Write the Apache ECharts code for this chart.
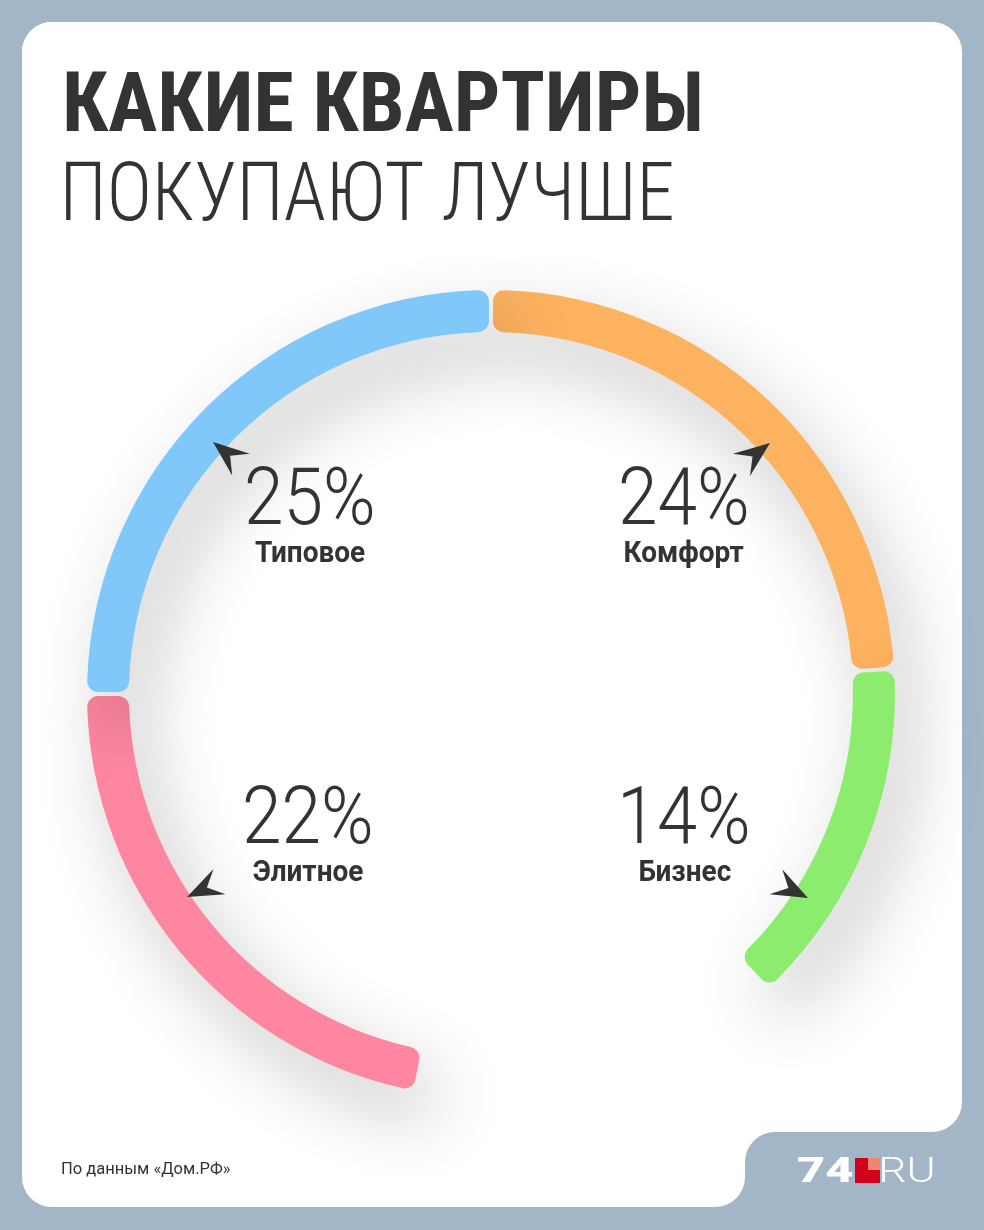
<!DOCTYPE html>
<html>
<head>
<meta charset="utf-8">
<title>Какие квартиры покупают лучше</title>
<script src="https://cdn.jsdelivr.net/npm/echarts@6/dist/echarts.min.js"></script>
<style>
  html, body { margin: 0; padding: 0; background: #a3b6c7; }
  #chart { width: 984px; height: 1230px; }
</style>
</head>
<body>
<div id="chart"></div>
<script>
// данные (по часовой стрелке от верхней точки кольца)
const categories = ['Комфорт', 'Бизнес', 'Элитное', 'Типовое']
const shares = [24, 14, 22, 25]
const colors = ['#fdb260', '#8cec6e', '#fe86a0', '#80c8fa']
// пустой промежуток внизу кольца вставляется после «Бизнес»
const gapAfter = 1

// оформление
const CX = 491
const CY = 694
const TEXT = '#333333'
// центр подписи (процент) относительно центра кольца
const labelPos = [[193, -198], [194, 121], [-183, 121], [-181, -198]]
// стрелки: острие относительно центра и направление
const arrowTips = [[279, -251], [317, 204], [-304, 203], [-278, -252]]
const arrowDirs = [[26, -20], [30.5, 15.5], [-29.5, 14], [-26, -21]]

const chart = echarts.init(document.getElementById('chart'))

// ширина «чернил» текста, чтобы подогнать узкое начертание
const measureCtx = document.createElement('canvas').getContext('2d')
function measure (text, font) {
  measureCtx.font = font
  measureCtx.textAlign = 'left'
  const m = measureCtx.measureText(text)
  return { left: m.actualBoundingBoxLeft, right: m.actualBoundingBoxRight }
}
// текст, сжатый по ширине; anchor: 'left' | 'center'; cy — середина заглавных букв
function fitText (text, font, size, ax, cy, width, anchor, fill, z) {
  const m = measure(text, font)
  const ink = m.left + m.right
  const s = width / ink
  let x
  if (anchor === 'center') {
    x = ax - ((m.right - m.left) / 2) * s
  } else {
    x = ax + m.left * s
  }
  return {
    type: 'text',
    x: x,
    y: cy + size * 0.1,
    scaleX: s,
    z: z || 10,
    silent: true,
    style: {
      text: text,
      font: font,
      fill: fill || TEXT,
      align: 'left',
      verticalAlign: 'middle'
    }
  }
}

// данные для кольца
const total = shares.reduce((a, b) => a + b, 0)
const seriesData = []
categories.forEach((name, i) => {
  seriesData.push({ name: name, value: shares[i], itemStyle: { color: colors[i] } })
  if (i === gapAfter) {
    seriesData.push({
      name: 'gap',
      value: 100 - total,
      itemStyle: { color: 'rgba(0,0,0,0)', shadowBlur: 0, shadowColor: 'rgba(0,0,0,0)' }
    })
  }
})

// фон-карточка
const cardShapes = [
  { type: 'rect', z: 0, silent: true, shape: { x: 22, y: 22, width: 940, height: 1110, r: 30 }, style: { fill: '#ffffff' } },
  { type: 'rect', z: 0, silent: true, shape: { x: 22, y: 22, width: 723, height: 1185, r: 30 }, style: { fill: '#ffffff' } },
  { type: 'rect', z: 0, silent: true, shape: { x: 715, y: 1100, width: 60, height: 60 }, style: { fill: '#ffffff' } },
  { type: 'rect', z: 1, silent: true, shape: { x: 745, y: 1132, width: 280, height: 140, r: 30 }, style: { fill: '#a3b6c7' } }
]

// подписи: процент + категория
const nameFont = 'bold 30px Roboto'
const ref = measure('Типовое', nameFont)
const nameScale = 110 / (ref.left + ref.right)
const labelEls = []
categories.forEach((name, i) => {
  const px = CX + labelPos[i][0]
  const py = CY + labelPos[i][1]
  labelEls.push(fitText(shares[i] + '%', '300 79px Roboto', 79, px, py, 125, 'center'))
  const w = measure(name, nameFont)
  labelEls.push(fitText(name, nameFont, 30, px, py + 55, (w.left + w.right) * nameScale, 'center'))
})

// стрелки-указатели
const arrowEls = arrowTips.map((tip, i) => {
  const d = arrowDirs[i]
  const len = Math.sqrt(d[0] * d[0] + d[1] * d[1])
  const ux = d[0] / len
  const uy = d[1] / len
  const local = [[0, 0], [-36, -14], [-22, 0], [-36, 14]]
  const pts = local.map(p => [
    CX + tip[0] + p[0] * ux - p[1] * uy,
    CY + tip[1] + p[0] * uy + p[1] * ux
  ])
  return { type: 'polygon', z: 10, silent: true, shape: { points: pts }, style: { fill: TEXT } }
})

// заголовок, источник, логотип
const headerEls = [
  fitText('КАКИЕ КВАРТИРЫ', "bold 84px 'Roboto Condensed', Roboto", 84, 66, 102, 634, 'left'),
  fitText('ПОКУПАЮТ ЛУЧШЕ', "300 82px 'Roboto Condensed', Roboto", 82, 66, 191, 606, 'left'),
  fitText('По данным «Дом.РФ»', '16px Roboto', 16, 62, 1168, 168, 'left'),
  fitText('74', '900 35px Roboto', 35, 797, 1170, 56, 'left', '#ffffff'),
  { type: 'rect', z: 10, silent: true, shape: { x: 855, y: 1158, width: 25, height: 25 }, style: { fill: '#d2001e' } },
  { type: 'rect', z: 10, silent: true, shape: { x: 868, y: 1158, width: 12, height: 12 }, style: { fill: '#f28472' } },
  fitText('RU', '300 35px Roboto', 35, 882, 1170, 51, 'left', '#ffffff')
]

const option = {
  animation: false,
  backgroundColor: '#a3b6c7',
  graphic: {
    elements: cardShapes.concat(labelEls, arrowEls, headerEls)
  },
  series: [
    {
      type: 'pie',
      z: 5,
      center: [CX, CY],
      radius: [362, 404],
      startAngle: 90,
      clockwise: true,
      padAngle: 0.6,
      silent: true,
      avoidLabelOverlap: false,
      label: { show: false },
      labelLine: { show: false },
      emphasis: { disabled: true },
      itemStyle: {
        borderRadius: 11,
        shadowBlur: 70,
        shadowOffsetX: 18,
        shadowOffsetY: 30,
        shadowColor: 'rgba(0, 0, 0, 0.24)'
      },
      data: seriesData
    }
  ]
}

chart.setOption(option)
</script>
</body>
</html>
